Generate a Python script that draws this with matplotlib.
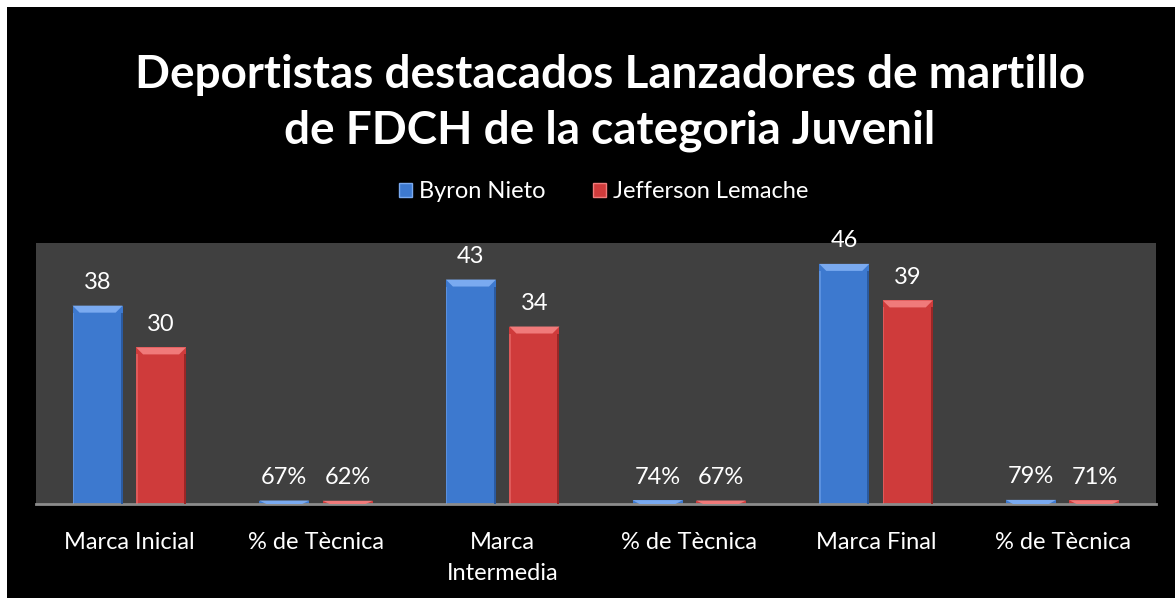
import matplotlib
matplotlib.use("Agg")
import matplotlib.pyplot as plt
from matplotlib.patches import Rectangle, Polygon
import numpy as np

plt.rcParams['font.family'] = ['Lato', 'DejaVu Sans']

# Data
categories = ["Marca Inicial", "% de Tècnica", "Marca\nIntermedia",
              "% de Tècnica", "Marca Final", "% de Tècnica"]
byron = [38, 0.67, 43, 0.74, 46, 0.79]
jefferson = [30, 0.62, 34, 0.67, 39, 0.71]
byron_labels = ["38", "67%", "43", "74%", "46", "79%"]
jefferson_labels = ["30", "62%", "34", "67%", "39", "71%"]
series_names = ["Byron Nieto", "Jefferson Lemache"]

BLUE = "#3d79cf"
RED = "#cf3b3b"
BLUE_TOP = "#7aaaf0"
RED_TOP = "#f07a7a"
BLUE_EDGE = "#2a5aa0"
RED_EDGE = "#9a2626"

W, H = 1175, 598
fig = plt.figure(figsize=(W / 100, H / 100), dpi=100)
fig.patch.set_facecolor("white")
fig.patches.append(Rectangle((7 / W, 0), 1, (H - 7) / H, transform=fig.transFigure,
                             facecolor="black", edgecolor="none", zorder=-10))

ax = fig.add_axes([36 / W, (H - 504) / H, (1156 - 36) / W, (504 - 243) / H])
ax.set_facecolor("#404040")
ax.set_ylim(0, 50)
x = np.arange(len(categories))
ax.set_xlim(-0.5, len(categories) - 0.5)

bw = 0.268
off = 0.17
b1 = ax.bar(x - off, byron, bw, color=BLUE, zorder=2)
b2 = ax.bar(x + off, jefferson, bw, color=RED, zorder=2)


def bevel(bars, top_col, edge_col):
    # px -> data units
    px_x = (ax.get_xlim()[1] - ax.get_xlim()[0]) / (1156 - 36)
    px_y = 50 / (504 - 243)
    for b in bars:
        x0, w, h = b.get_x(), b.get_width(), b.get_height()
        dx = min(7 * px_x, w / 3)
        dy = min(7 * px_y, h)
        ax.add_patch(Polygon([(x0, h), (x0 + w, h), (x0 + w - dx, h - dy), (x0 + dx, h - dy)],
                             closed=True, facecolor=top_col, edgecolor="none", zorder=3))
        ax.add_patch(Rectangle((x0 + w - 2 * px_x, 0), 2 * px_x, h - dy,
                               facecolor=edge_col, edgecolor="none", zorder=3))
        ax.add_patch(Rectangle((x0, 0), 1.5 * px_x, h - dy,
                               facecolor=top_col, edgecolor="none", alpha=0.5, zorder=3))


bevel(b1, BLUE_TOP, BLUE_EDGE)
bevel(b2, RED_TOP, RED_EDGE)

for bars, labels in ((b1, byron_labels), (b2, jefferson_labels)):
    for b, lab in zip(bars, labels):
        ax.annotate(lab, (b.get_x() + b.get_width() / 2, b.get_height()),
                    xytext=(0, 9), textcoords="offset points", ha="center", va="bottom",
                    color="white", fontsize=17)

ax.set_xticks(x)
ax.set_xticklabels(categories, color="white", fontsize=17, linespacing=1.6)
ax.tick_params(axis="x", length=0, pad=20)
ax.set_yticks([])
for s in ("top", "left", "right"):
    ax.spines[s].set_visible(False)
ax.spines["bottom"].set_color("#8c8c8c")
ax.spines["bottom"].set_linewidth(2)

handles = [Rectangle((0, 0), 1, 1, facecolor=BLUE, edgecolor=BLUE_TOP),
           Rectangle((0, 0), 1, 1, facecolor=RED, edgecolor=RED_TOP)]
fig.legend(handles, series_names, loc="center", bbox_to_anchor=(604 / W, 1 - 192 / H),
           ncol=2, frameon=False, fontsize=17, labelcolor="white",
           handlelength=0.55, handleheight=0.55, handletextpad=0.3, columnspacing=2.0)

fig.text(610 / W, 1 - 103 / H, "Deportistas destacados Lanzadores de martillo\nde FDCH de la categoria Juvenil",
         ha="center", va="center", color="white", fontsize=33, fontweight="bold",
         linespacing=1.38)

fig.savefig("out.png", dpi=100, facecolor=fig.get_facecolor())
